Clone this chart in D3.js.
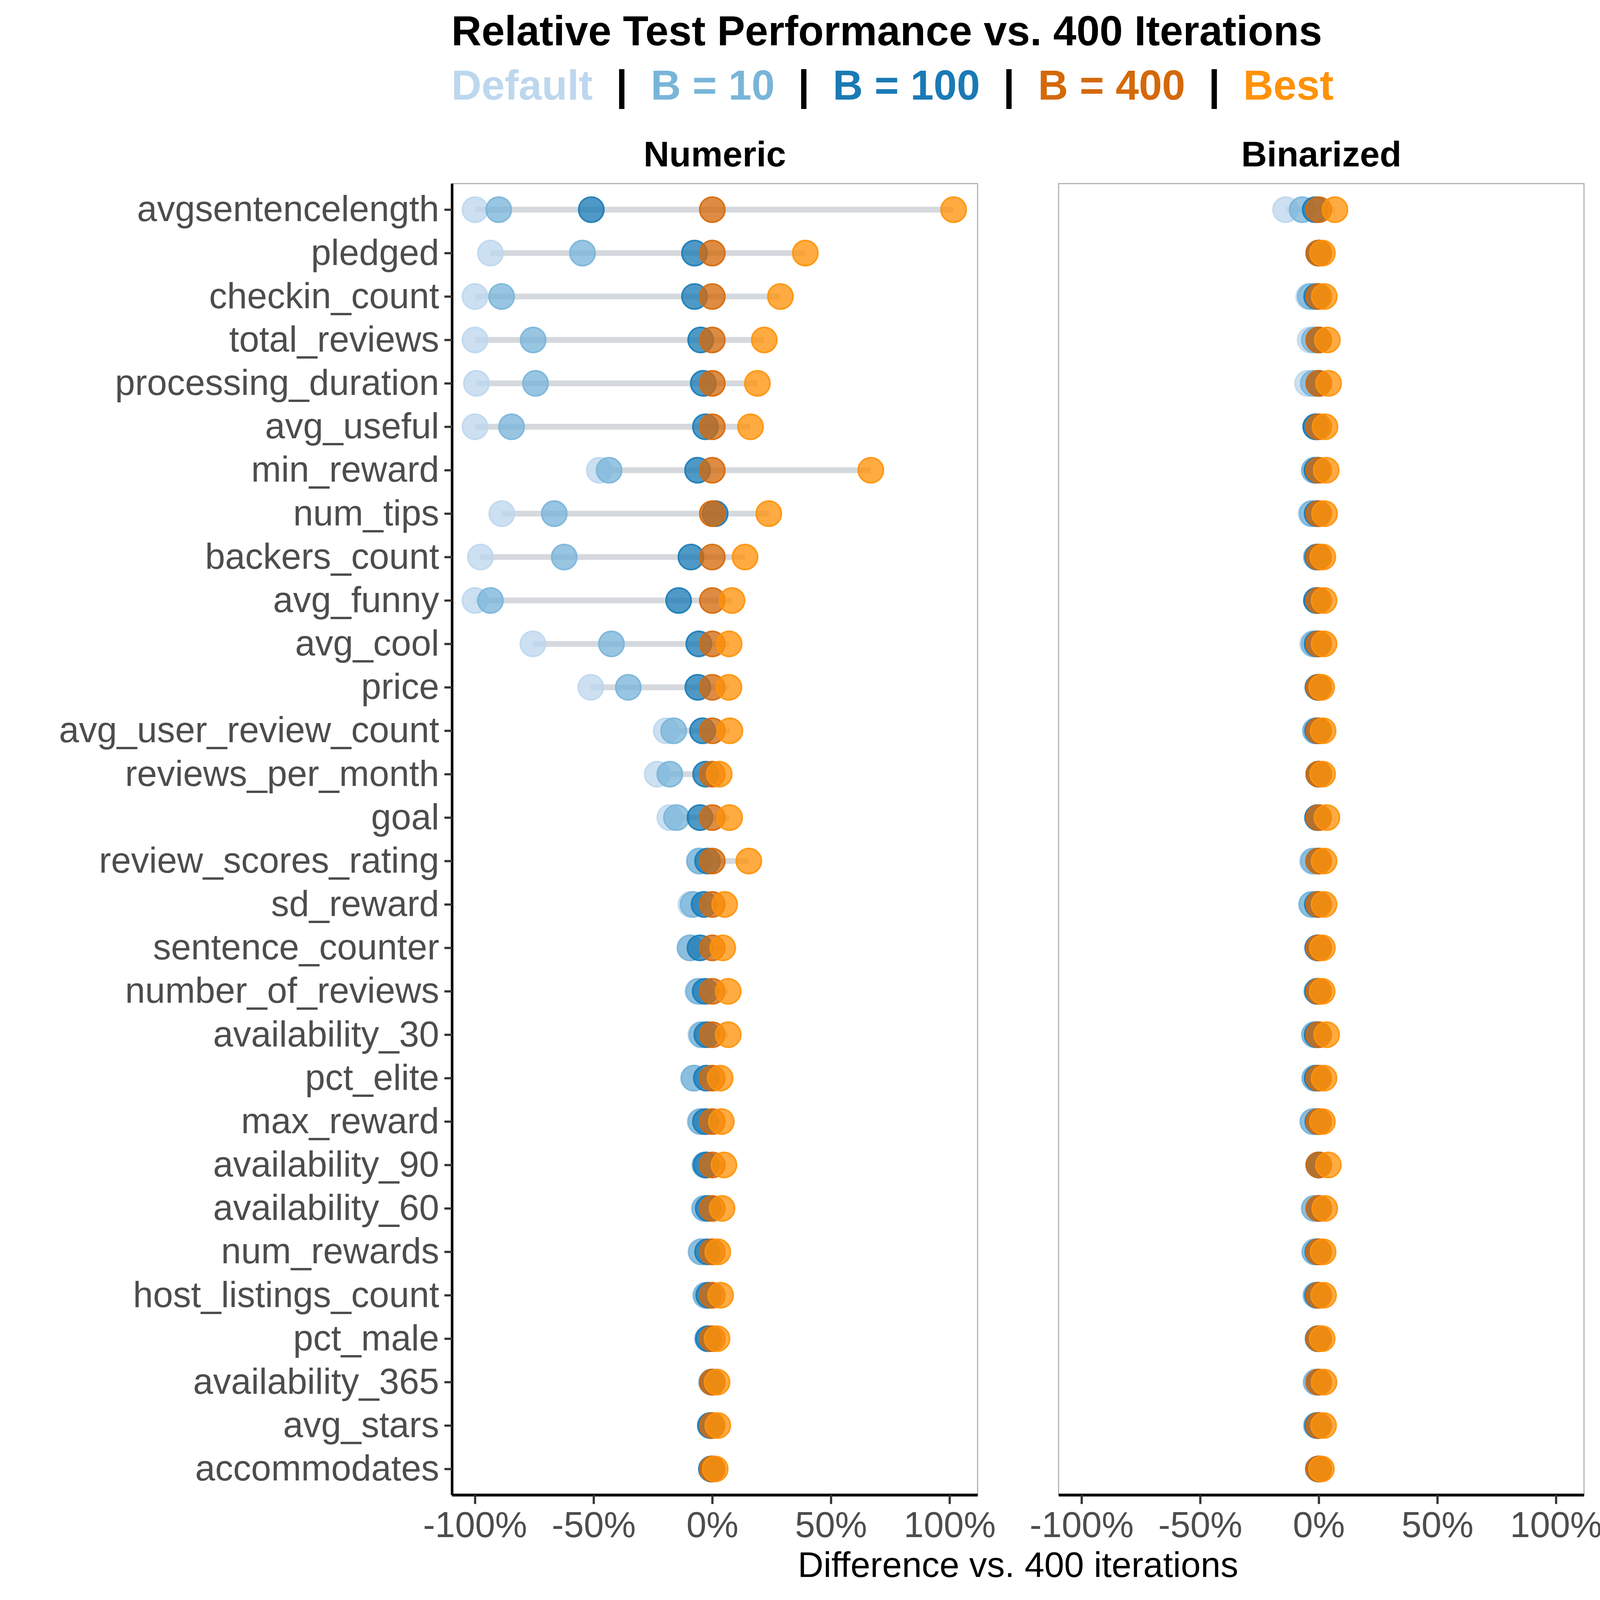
<!DOCTYPE html>
<html><head><meta charset="utf-8">
<script src="https://cdn.jsdelivr.net/npm/d3@7"></script>
<style>html,body{margin:0;padding:0;background:#fff;overflow:hidden}svg{display:block;width:100vw;height:100vh}</style></head>
<body><svg id="c" viewBox="0 0 8000 8000" preserveAspectRatio="xMidYMid meet"></svg>
<script>
const categories = ["avgsentencelength","pledged","checkin_count","total_reviews","processing_duration","avg_useful","min_reward","num_tips","backers_count","avg_funny","avg_cool","price","avg_user_review_count","reviews_per_month","goal","review_scores_rating","sd_reward","sentence_counter","number_of_reviews","availability_30","pct_elite","max_reward","availability_90","availability_60","num_rewards","host_listings_count","pct_male","availability_365","avg_stars","accommodates"];
const seriesNames = ["Default","B = 10","B = 100","B = 400","Best"];
const seriesColors = ["#BDD7EE","#79B5D9","#1A7AB5","#D4690A","#FF9208"];
const panelNames = ["Numeric","Binarized"];
const xTicks = [-1,-0.5,0,0.5,1];

// Numeric panel
const numDefault = [-1.0,-0.935,-1.0,-1.0,-0.994,-1.0,-0.476,-0.887,-0.977,-1.0,-0.756,-0.512,-0.194,-0.232,-0.179,-0.055,-0.09,-0.095,-0.061,-0.048,-0.078,-0.051,-0.032,-0.033,-0.048,-0.028,-0.02,-0.003,-0.009,-0.004];
const numB10 = [-0.90,-0.547,-0.888,-0.755,-0.745,-0.846,-0.435,-0.666,-0.624,-0.935,-0.425,-0.354,-0.163,-0.179,-0.151,-0.054,-0.081,-0.093,-0.057,-0.044,-0.078,-0.049,-0.03,-0.032,-0.046,-0.026,-0.019,-0.002,-0.009,-0.004];
const numB100 = [-0.51,-0.075,-0.075,-0.049,-0.038,-0.029,-0.062,0.012,-0.09,-0.142,-0.057,-0.061,-0.041,-0.028,-0.052,-0.02,-0.035,-0.052,-0.03,-0.023,-0.025,-0.029,-0.026,-0.017,-0.02,-0.015,-0.016,0,-0.007,-0.003];
const numB400 = [0,0,0,0,0,0,0,0,0,0,0,0,0,0,0,0,0,0,0,0,0,0,0,0,0,0,0,0,0,0];
const numBest = [1.017,0.392,0.287,0.219,0.19,0.161,0.668,0.238,0.138,0.083,0.071,0.07,0.074,0.029,0.073,0.154,0.052,0.044,0.067,0.067,0.033,0.038,0.049,0.041,0.023,0.035,0.02,0.02,0.023,0.012];

// Binarized panel
const binDefault = [-0.14,0,-0.042,-0.036,-0.047,-0.012,-0.015,-0.032,-0.01,-0.008,-0.026,-0.004,-0.014,0,-0.005,-0.027,-0.028,-0.005,-0.008,-0.018,-0.017,-0.022,0,-0.015,-0.015,-0.01,-0.003,-0.012,-0.008,-0.002];
const binB10 = [-0.07,0,-0.035,-0.019,-0.023,-0.012,-0.019,-0.028,-0.01,-0.008,-0.02,-0.004,-0.014,0,-0.005,-0.022,-0.03,-0.005,-0.008,-0.018,-0.017,-0.025,0,-0.019,-0.017,-0.012,-0.003,-0.01,-0.01,-0.002];
const binB100 = [-0.015,0,-0.009,0,0,-0.013,-0.008,-0.007,-0.005,-0.01,-0.007,-0.003,-0.005,0,-0.005,-0.001,-0.006,-0.004,-0.005,-0.007,-0.007,-0.004,0,0,-0.004,-0.005,-0.002,0,-0.005,-0.001];
const binB400 = [0,0,0,0,0,0,0,0,0,0,0,0,0,0,0,0,0,0,0,0,0,0,0,0,0,0,0,0,0,0];
const binBest = [0.068,0.015,0.023,0.036,0.041,0.026,0.031,0.024,0.017,0.022,0.022,0.012,0.018,0.016,0.034,0.022,0.022,0.015,0.014,0.033,0.022,0.015,0.04,0.025,0.018,0.02,0.014,0.022,0.02,0.011];

const panelSeries = [
  [numDefault,numB10,numB100,numB400,numBest],
  [binDefault,binB10,binB100,binB400,binBest]
];

const FONT = "'Liberation Sans', Arial, Helvetica, sans-serif";
const svg = d3.select("#c");
svg.append("rect").attr("width",8000).attr("height",8000).attr("fill","#fff");

const yTop = 918, yBot = 7475;
const panelX = [[2260,4888],[5293,7920]];
const y = d3.scalePoint().domain(categories).range([yTop,yBot]).padding(0.6);

// Title
svg.append("text").attr("x",2257).attr("y",227)
  .attr("font-family",FONT).attr("font-weight","bold").attr("font-size",208.5)
  .attr("fill","#000").text("Relative Test Performance vs. 400 Iterations");

const leg = svg.append("text").attr("x",2257).attr("y",498)
  .attr("font-family",FONT).attr("font-weight","bold").attr("font-size",208.5)
  .attr("xml:space","preserve").style("white-space","pre");
seriesNames.forEach((n,i)=>{
  leg.append("tspan").attr("fill",seriesColors[i]).text(n);
  if(i<seriesNames.length-1) leg.append("tspan").attr("fill","#000").text("  |  ");
});

panelNames.forEach((pn,pi)=>{
  const [x0,x1] = panelX[pi];
  const x = d3.scaleLinear().domain([-1.097,1.118]).range([x0,x1]);
  const g = svg.append("g");
  // strip title
  g.append("text").attr("x",(x0+x1)/2).attr("y",832).attr("text-anchor","middle")
    .attr("font-family",FONT).attr("font-weight","bold").attr("font-size",178)
    .attr("fill","#000").text(pn);
  // panel border
  g.append("rect").attr("x",x0).attr("y",yTop).attr("width",x1-x0).attr("height",yBot-yTop)
    .attr("fill","none").attr("stroke","#A8A8A8").attr("stroke-width",5);

  const series = panelSeries[pi];
  const rows = categories.map((c,i)=>({cat:c, vals:series.map(s=>s[i])}));
  // segments
  g.append("g").selectAll("line").data(rows).join("line")
    .attr("x1",d=>x(d3.min(d.vals))).attr("x2",d=>x(d3.max(d.vals)))
    .attr("y1",d=>y(d.cat)).attr("y2",d=>y(d.cat))
    .attr("stroke","#D5D9DE").attr("stroke-width",29);
  // points
  series.forEach((s,si)=>{
    g.append("g").selectAll("circle").data(categories.map((c,i)=>({cat:c,v:s[i]}))).join("circle")
      .attr("cx",d=>x(d.v)).attr("cy",d=>y(d.cat)).attr("r",63)
      .attr("fill",seriesColors[si]).attr("fill-opacity",0.77)
      .attr("stroke",seriesColors[si]).attr("stroke-opacity",0.9).attr("stroke-width",8);
  });

  // x axis
  const xa = g.append("g").attr("transform",`translate(0,${yBot})`)
    .call(d3.axisBottom(x).tickValues(xTicks).tickFormat(d=>Math.round(d*100)+"%")
      .tickSize(45).tickSizeOuter(0).tickPadding(37));
  xa.select(".domain").attr("stroke","#000").attr("stroke-width",14);
  xa.selectAll(".tick line").attr("stroke","#333").attr("stroke-width",11);
  xa.selectAll(".tick text").attr("font-family",FONT).attr("font-size",180).attr("fill","#4D4D4D");

  if(pi===0){
    const ya = g.append("g").attr("transform",`translate(${x0},0)`)
      .call(d3.axisLeft(y).tickSize(38).tickSizeOuter(0).tickPadding(26));
    ya.select(".domain").attr("stroke","#000").attr("stroke-width",13);
    ya.selectAll(".tick line").attr("stroke","#333").attr("stroke-width",11);
    ya.selectAll(".tick text").attr("font-family",FONT).attr("font-size",180).attr("fill","#4D4D4D");
  }
});

svg.append("text").attr("x",(2260+7920)/2).attr("y",7885).attr("text-anchor","middle")
  .attr("font-family",FONT).attr("font-size",178).attr("fill","#000")
  .text("Difference vs. 400 iterations");
</script></body></html>
